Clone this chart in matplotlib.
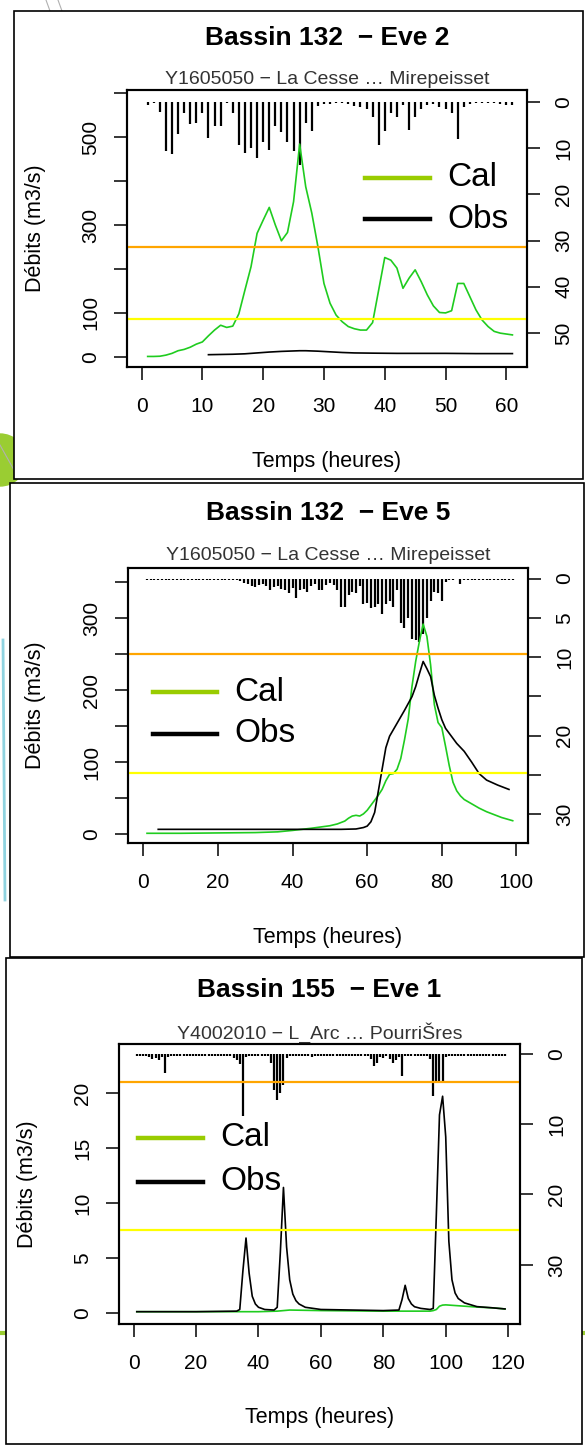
import matplotlib
matplotlib.use("Agg")
import matplotlib.pyplot as plt
from matplotlib.patches import Rectangle, Ellipse
from matplotlib.lines import Line2D

plt.rcParams['font.family'] = ['Liberation Sans', 'DejaVu Sans']

# ---------------- données ----------------
# Bassin 132 - Eve 2
pluie1 = [0.6, 0.3, 2.1, 10.6, 11.2, 7.0, 2.4, 4.8, 4.6, 2.4,
          7.7, 5.2, 5.1, 0.3, 2.4, 9.4, 11.0, 10.0, 12.2, 8.6,
          10.4, 5.3, 6.4, 8.6, 10.7, 13.6, 4.6, 6.2, 0.9, 0.4,
          0.4, 0.2, 0.3, 0.4, 0.9, 1.0, 1.6, 3.2, 9.3, 6.2,
          2.4, 3.2, 0.6, 6.0, 3.2, 1.6, 0.6, 0.4, 1.0, 1.6,
          2.3, 8.0, 1.0, 0.4, 0.3, 0.3, 0.3, 0.3, 0.4, 0.6, 0.6]
cal1 = [1, 1, 1.5, 4, 8, 14, 17, 22, 29, 34,
        48, 61, 72, 67, 70, 98, 152, 205, 281, 311,
        340, 300, 264, 283, 353, 484, 387, 327, 251, 167,
        122, 95, 80, 69, 64, 61, 61, 78, 152, 226,
        220, 202, 156, 179, 198, 171, 141, 116, 101, 100,
        105, 167, 167, 137, 107, 84, 69, 58, 54, 52, 50]
t_obs1 = [11, 13, 15, 17, 19, 21, 23, 25, 26, 27, 29, 31, 33, 35, 38, 42, 46, 50, 55, 61]
obs1 = [5, 5.5, 6, 7, 9, 11, 12.5, 13.5, 14, 14, 13, 11.5, 10, 9, 8.5, 8, 8, 8, 7.5, 7.5]

# Bassin 132 - Eve 5
pluie2 = [0.15] * 25 + [
    0.3, 0.5, 0.7, 0.9, 1.1, 0.8, 0.7, 1.0, 1.4, 1.1,
    1.0, 1.3, 1.5, 1.9, 1.2, 2.5, 1.5, 1.3, 1.7, 1.0,
    0.7, 1.4, 1.5, 0.8, 0.6, 0.8, 1.4, 3.6, 3.6, 2.1,
    1.7, 1.9, 1.0, 3.3, 3.1, 3.8, 3.6, 3.3, 4.5, 3.3,
    2.9, 3.6, 1.4, 5.7, 6.3, 5.0, 7.7, 7.8, 8.1, 7.0,
    5.0, 2.9, 1.7, 1.8, 2.8, 0.4, 0.2, 0.2, 0.1, 0.7,
    0.2] + [0.15] * 13
t_cal2 = [1, 10, 20, 30, 36, 40, 45, 50, 52, 54, 55, 56, 57, 58, 59, 60, 61, 62, 63, 64,
          65, 66, 67, 68, 69, 70, 71, 72, 73, 74, 75, 76, 77, 78, 79, 80, 81, 82, 83, 84,
          85, 86, 88, 90, 92, 94, 96, 99]
cal2 = [1, 1, 1.5, 2, 3, 5, 8, 11.5, 14, 18, 22, 25, 26, 25, 28, 33, 40, 47, 54, 62,
        74, 83, 84, 90, 105, 131, 160, 205, 240, 268, 292, 275, 235, 180, 155, 148, 122, 95, 72, 60,
        53, 48, 42, 36, 31, 27, 23, 18.5]
t_obs2 = [4, 20, 40, 53, 57, 59, 60, 61, 62, 63, 64, 65, 66, 67, 68, 70, 72, 73, 74, 75,
          76, 77, 78, 79, 80, 81, 82, 84, 86, 88, 90, 92, 95, 98]
obs2 = [6.5, 6.5, 6.5, 6.5, 7, 9, 11, 17, 30, 60, 90, 120, 136, 145, 154, 172, 191, 205, 223, 240,
        230, 219, 193, 175, 159, 147, 140, 126, 115, 100, 84, 75, 68, 62]

# Bassin 155 - Eve 1
pluie3 = ([0.3] * 4 + [0.5, 0.7, 0.6, 0.9, 0.5, 2.7, 0.5] + [0.3] * 20 +
          [0.6, 0.9, 1.4, 8.9, 0.5] + [0.3] * 7 +
          [1.3, 5.1, 6.6, 5.6, 4.4, 0.6] + [0.3] * 7 + [0.5] + [0.3] * 18 +
          [0.8, 1.7, 1.3, 0.5, 0.6, 0.4, 0.8, 1.3, 0.9, 0.5, 3.2, 0.4] + [0.3] * 7 +
          [0.8, 6.0, 4.2, 4.0, 3.9, 0.5] + [0.3] * 19)
t_cal3 = [1, 20, 40, 46, 50, 60, 80, 95, 96, 97, 98, 99, 100, 102, 105, 110, 115, 119]
cal3 = [0.1, 0.1, 0.1, 0.15, 0.25, 0.2, 0.15, 0.15, 0.2, 0.3, 0.6, 0.7, 0.72, 0.68, 0.62, 0.52, 0.45, 0.35]
t_obs3 = [1, 20, 33, 34, 35, 36, 37, 38, 39, 40, 42, 45, 46, 47, 48, 49, 50, 51, 52, 53,
          55, 60, 70, 80, 85, 86, 87, 88, 89, 90, 92, 95, 96, 97, 98, 99, 100, 101, 102, 103,
          104, 106, 110, 115, 119]
obs3 = [0.1, 0.1, 0.15, 0.3, 3.8, 6.8, 3.6, 1.5, 0.8, 0.5, 0.3, 0.25, 0.5, 5.5, 11.4, 6.0, 3.0, 1.7, 1.1, 0.8,
        0.5, 0.3, 0.25, 0.2, 0.25, 1.2, 2.5, 1.3, 0.8, 0.55, 0.4, 0.3, 0.4, 9.0, 18.0, 19.7, 16.0, 6.5, 3.0, 1.8,
        1.3, 0.9, 0.56, 0.45, 0.35]

titres = ["Bassin 132  \u2212 Eve 2", "Bassin 132  \u2212 Eve 5", "Bassin 155  \u2212 Eve 1"]
stations = ["Y1605050 \u2212 La Cesse \u2026 Mirepeisset",
            "Y1605050 \u2212 La Cesse \u2026 Mirepeisset",
            "Y4002010 \u2212 L_Arc \u2026 Pourri\u0160res"]
seuils = [(250, 86), (250, 85), (21, 7.5)]

# ---------------- mise en page (pixels) ----------------
W, H = 585, 1446
fig = plt.figure(figsize=(W / 100, H / 100), dpi=100)


def fx(x):
    return x / W


def fy(y):
    return 1 - y / H


# décor de la diapo
fig.add_artist(Ellipse((fx(0), fy(460)), 2 * 26 / W, 2 * 26 / H, transform=fig.transFigure,
                       color='#9acd32', zorder=-3))
fig.add_artist(Line2D([0, 1], [fy(1333), fy(1333)], transform=fig.transFigure,
                      color='#9acd32', lw=3, zorder=-3))
fig.add_artist(Line2D([fx(3), fx(5)], [fy(640), fy(900)], transform=fig.transFigure,
                      color='#8fd3e0', lw=2, zorder=-3))
for xs, ys in [([46, 50], [0, 11]), ([58, 62], [0, 11]), ([0, 14], [445, 470])]:
    fig.add_artist(Line2D([fx(v) for v in xs], [fy(v) for v in ys], transform=fig.transFigure,
                          color='#b0b0b0', lw=0.8, zorder=-3))

# cadres des trois graphiques
for x0, y0, x1, y1 in [(14, 11, 583, 479), (10, 483, 584, 957), (6, 958, 582, 1444)]:
    fig.add_artist(Rectangle((fx(x0), fy(y1)), (x1 - x0) / W, (y1 - y0) / H,
                             transform=fig.transFigure, facecolor='white',
                             edgecolor='black', lw=1.2, zorder=-1))

panneaux = [
    dict(box=(127, 90, 527, 367), xlim=(-2.4, 63.4), ylim=(-23, 607), y2lim=(57.4, -2.6),
         xt=range(0, 61, 10), yt=range(0, 601, 100), ylab=[0, 100, 300, 500],
         y2t=range(0, 51, 10), y2lab=[0, 10, 20, 30, 40, 50],
         pluie=pluie1, cal=(range(1, 62), cal1), obs=(t_obs1, obs1),
         leg=(365, 430, 178, 219, 447), titre_y=38, sous_y=80, xl_y=462, yl_x=36),
    dict(box=(128, 568, 528, 843), xlim=(-4.1, 103.1), ylim=(-12.5, 370), y2lim=(33.7, -1.35),
         xt=range(0, 101, 20), yt=range(0, 351, 50), ylab=[0, 100, 200, 300],
         y2t=range(0, 31, 5), y2lab=[0, 5, 10, 20, 30],
         pluie=pluie2, cal=(t_cal2, cal2), obs=(t_obs2, obs2),
         leg=(153, 217, 692, 734, 234), titre_y=513, sous_y=556, xl_y=937, yl_x=36),
    dict(box=(119, 1044, 520, 1324), xlim=(-4.7, 123.8), ylim=(-1.02, 24.45), y2lim=(38.4, -1.37),
         xt=range(0, 121, 20), yt=range(0, 21, 5), ylab=[0, 5, 10, 15, 20],
         y2t=range(0, 31, 10), y2lab=[0, 10, 20, 30],
         pluie=pluie3, cal=(t_cal3, cal3), obs=(t_obs3, obs3),
         leg=(138, 203, 1138, 1182, 220), titre_y=990, sous_y=1033, xl_y=1418, yl_x=27),
]

for i, p in enumerate(panneaux):
    l, t, r, b = p['box']
    ax = fig.add_axes([fx(l), fy(b), (r - l) / W, (b - t) / H])
    ax2 = ax.twinx()
    ax.set_zorder(ax2.get_zorder() + 1)
    ax.patch.set_visible(False)
    ax2.patch.set_facecolor('white')

    # pluie (barres verticales, axe inversé)
    heures = range(1, len(p['pluie']) + 1)
    ax2.vlines(heures, 0, p['pluie'], color='black', lw=1.6)
    ax2.set_ylim(*p['y2lim'])
    ax2.set_yticks(list(p['y2t']))
    ax2.set_yticklabels([str(v) if v in p['y2lab'] else '' for v in p['y2t']],
                        rotation=90, va='center')

    # débits
    ax.plot(p['cal'][0], p['cal'][1], color='#1fcc1f', lw=1.2)
    ax.plot(p['obs'][0], p['obs'][1], color='black', lw=1.2)
    ax.axhline(seuils[i][0], color='#ffa500', lw=1.6)
    ax.axhline(seuils[i][1], color='#ffff00', lw=1.6)

    ax.set_xlim(*p['xlim'])
    ax.set_ylim(*p['ylim'])
    ax.set_xticks(list(p['xt']))
    ax.set_yticks(list(p['yt']))
    ax.set_yticklabels([str(v) if v in p['ylab'] else '' for v in p['yt']],
                       rotation=90, va='center')

    for a in (ax, ax2):
        for s in a.spines.values():
            s.set_linewidth(1.5)
        a.tick_params(length=9.5, width=1.1, labelsize=15, direction='out')
    ax.tick_params(axis='x', pad=12)
    ax.tick_params(axis='y', pad=10)
    ax2.tick_params(axis='y', pad=10)

    cx = (l + r) / 2
    fig.text(fx(cx), fy(p['titre_y']), titres[i], ha='center', va='center',
             fontsize=19, fontweight='bold')
    fig.text(fx(cx), fy(p['sous_y']), stations[i], ha='center', va='center',
             fontsize=14, color='#333333')
    fig.text(fx(cx), fy(p['xl_y']), "Temps (heures)", ha='center', va='center', fontsize=15.5)
    fig.text(fx(p['yl_x']), fy((t + b) / 2), "Débits (m3/s)", ha='center', va='center',
             rotation=90, fontsize=15.5)

    # légende
    x0, x1, yc, yo, xt_ = p['leg']
    fig.add_artist(Line2D([fx(x0), fx(x1)], [fy(yc), fy(yc)], transform=fig.transFigure,
                          color='#99cc00', lw=3.2, zorder=5))
    fig.add_artist(Line2D([fx(x0), fx(x1)], [fy(yo), fy(yo)], transform=fig.transFigure,
                          color='black', lw=3.2, zorder=5))
    fig.text(fx(xt_), fy(yc), "Cal", ha='left', va='center', fontsize=24, zorder=5)
    fig.text(fx(xt_), fy(yo), "Obs", ha='left', va='center', fontsize=24, zorder=5)

fig.savefig("out.png", dpi=100)
